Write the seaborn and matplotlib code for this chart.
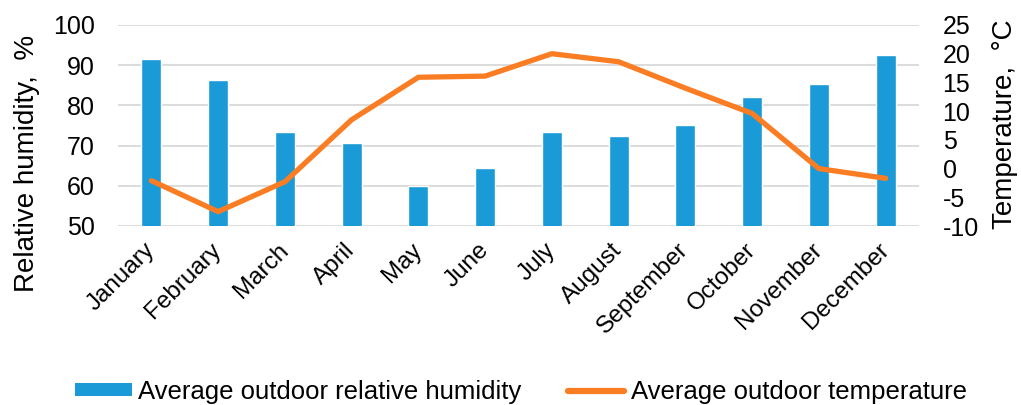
import numpy as np
import pandas as pd
import matplotlib
matplotlib.use("Agg")
import matplotlib.pyplot as plt
import seaborn as sns
from matplotlib.patches import Patch
from matplotlib.lines import Line2D

# Monthly climate data
months = ["January", "February", "March", "April", "May", "June",
          "July", "August", "September", "October", "November", "December"]
humidity = [91.5, 86.3, 73.5, 70.7, 60.0, 64.5, 73.5, 72.5, 75.2, 82.2, 85.2, 92.6]
temperature = [-2.1, -7.5, -2.3, 8.5, 15.9, 16.1, 20.0, 18.6, 14.0, 9.6, 0.0, -1.7]

humidity_ticks = [50, 60, 70, 80, 90, 100]
temperature_ticks = [-10, -5, 0, 5, 10, 15, 20, 25]

BLUE = "#1a9ad6"
ORANGE = "#fb7d23"

sns.set_style("white")
plt.rcParams["font.family"] = ["Liberation Sans", "DejaVu Sans"]
plt.rcParams["axes.unicode_minus"] = False
plt.rcParams["text.color"] = "black"
plt.rcParams["axes.labelcolor"] = "black"
plt.rcParams["xtick.color"] = "black"
plt.rcParams["ytick.color"] = "black"

W, H = 1021, 405
fig = plt.figure(figsize=(W / 100, H / 100), dpi=100)
ax = fig.add_axes([118 / W, 1 - 226 / H, 801 / W, 201 / H])

df = pd.DataFrame({"month": months, "humidity": humidity,
                   "pos": np.arange(len(months)), "temperature": temperature})

sns.barplot(data=df, x="month", y="humidity", color=BLUE, saturation=1,
            width=0.3, ax=ax, zorder=2)
ax.set_ylim(50, 100)
ax.set_yticks(humidity_ticks)
ax.set_xlim(-0.5, len(months) - 0.5)
ax.yaxis.grid(True, color="#d6d6d6", linewidth=1.2, zorder=0)
ax.set_axisbelow(True)
ax.set_xlabel("")
ax.set_ylabel("Relative humidity,  %", fontsize=20, va="center",
              ha="center", rotation_mode="default")
ax.yaxis.set_label_coords((27 - 118) / 801, (241.5 - 179) / 201)
ax.tick_params(axis="y", length=0, pad=16.5, labelsize=18)
ax.tick_params(axis="x", length=0, pad=15, labelsize=17.5)
for lbl in ax.get_xticklabels():
    lbl.set_rotation(45)
    lbl.set_ha("right")
    lbl.set_va("center")
    lbl.set_rotation_mode("anchor")

ax2 = ax.twinx()
sns.lineplot(data=df, x="pos", y="temperature", color=ORANGE, linewidth=3.8,
             ax=ax2, solid_capstyle="round", solid_joinstyle="round")
ax2.set_ylim(-10, 25)
ax2.set_yticks(temperature_ticks)
ax2.set_xlim(-0.5, len(months) - 0.5)
ax2.grid(False)
ax2.set_ylabel("Temperature,  °C", fontsize=20, va="center", ha="center",
               rotation_mode="default")
ax2.yaxis.set_label_coords((1005 - 118) / 801, (281 - 179) / 201)
ax2.tick_params(axis="y", length=0, pad=17, labelsize=18)

for a in (ax, ax2):
    for s in a.spines.values():
        s.set_visible(False)

handles = [Patch(facecolor=BLUE, edgecolor="none"),
           Line2D([0], [0], color=ORANGE, linewidth=4.5, solid_capstyle="round")]
fig.legend(handles, ["Average outdoor relative humidity", "Average outdoor temperature"],
           loc="center", bbox_to_anchor=(521 / W, 1 - 392 / H), ncol=2,
           frameon=False, fontsize=18.5, handlelength=2.2, handleheight=0.4,
           handletextpad=0.25, columnspacing=1.8, borderpad=0, borderaxespad=0)

fig.savefig("out.png", dpi=100)
